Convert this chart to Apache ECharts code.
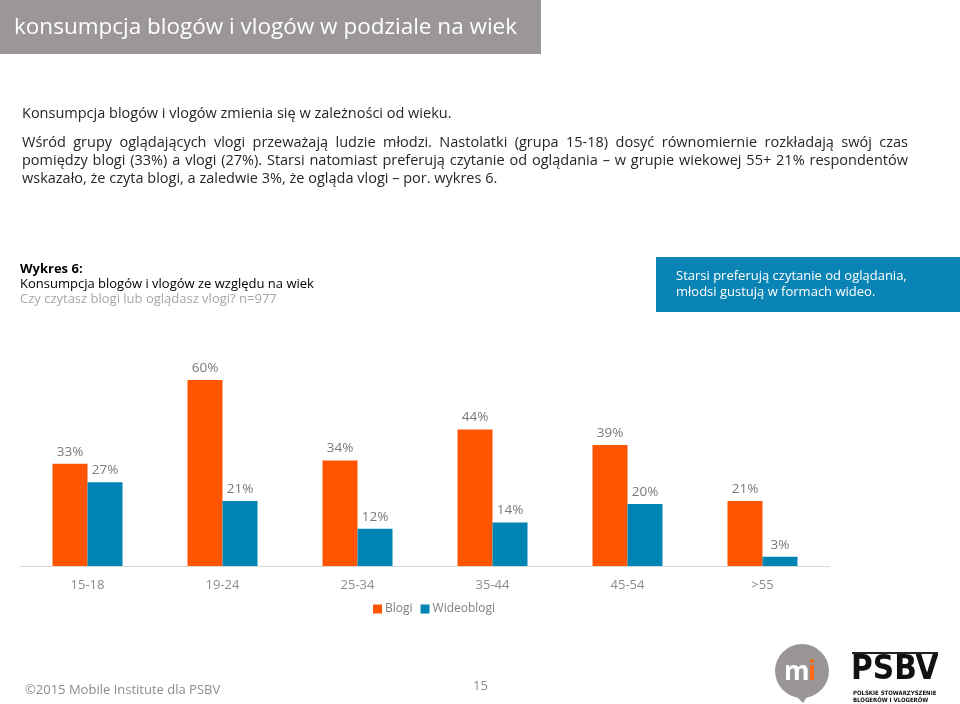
<!DOCTYPE html>
<html><head><meta charset="utf-8">
<script src="https://cdn.jsdelivr.net/npm/echarts@6/dist/echarts.min.js"></script>
<style>html,body{margin:0;padding:0;background:#fff}#c{width:960px;height:704px}</style>
</head><body><div id="c"></div>
<script>
const categories = ['15-18','19-24','25-34','35-44','45-54','>55'];
const blogi = [33,60,34,44,39,21];
const wideoblogi = [27,21,12,14,20,3];
const seriesNames = ['Blogi','Wideoblogi'];

const FF = '"Open Sans", "Noto Sans", sans-serif';
const chart = echarts.init(document.getElementById('c'), null, {renderer:'canvas'});

const mctx = document.createElement('canvas').getContext('2d');
function justifyLine(text, x0, x1, y, size, color, justify){
  mctx.font = size + 'px ' + FF;
  const words = text.split(/\s+/);
  const els = [];
  if(!justify){
    els.push({type:'text', x:x0, y:y, style:{text:text, font:size+'px '+FF, fill:color, textVerticalAlign:'top'}});
    return els;
  }
  const widths = words.map(w=>mctx.measureText(w).width);
  const total = widths.reduce((a,b)=>a+b,0);
  const gap = (x1-x0-total)/(words.length-1);
  let x = x0;
  words.forEach((w,i)=>{
    els.push({type:'text', x:x, y:y, style:{text:w, font:size+'px '+FF, fill:color, textVerticalAlign:'top'}});
    x += widths[i]+gap;
  });
  return els;
}

const paraColor = '#262626';
const pSize = 14.5;
let graphics = [
  {type:'rect', shape:{x:0,y:0,width:541,height:54}, style:{fill:'#9b9797'}},
  {type:'text', x:14, y:28, style:{text:'konsumpcja blogów i vlogów w podziale na wiek', font:'22.5px '+FF, fill:'#ffffff', textVerticalAlign:'middle'}},
  {type:'rect', shape:{x:656,y:257,width:304,height:55}, style:{fill:'#0a84b4'}},
  {type:'text', x:676, y:268, style:{text:'Starsi preferują czytanie od oglądania,\nmłodsi gustują w formach wideo.', font:'13px '+FF, fill:'#ffffff', lineHeight:16}},
  {type:'text', x:20, y:263, style:{text:'Wykres 6:', font:'bold 13px '+FF, fill:'#000000'}},
  {type:'text', x:20, y:278, style:{text:'Konsumpcja blogów i vlogów ze względu na wiek', font:'13px '+FF, fill:'#000000'}},
  {type:'text', x:20, y:293, style:{text:'Czy czytasz blogi lub oglądasz vlogi? n=977', font:'13px '+FF, fill:'#a6a6a6'}},
  {type:'text', x:25, y:684, style:{text:'©2015 Mobile Institute dla PSBV', font:'13px '+FF, fill:'#8c8c8c'}},
  {type:'text', x:473, y:680, style:{text:'15', font:'13px '+FF, fill:'#8c8c8c'}},
  // mi logo
  {type:'circle', shape:{cx:802,cy:671,r:27}, style:{fill:'#9a9696'}},
  {type:'polygon', shape:{points:[[795,695],[808,695],[803,703]]}, style:{fill:'#9a9696'}},
  {type:'text', x:784, y:673, style:{text:'m', font:'bold 26px '+FF, fill:'#ffffff', textVerticalAlign:'middle'}},
  {type:'text', x:808, y:673, style:{text:'i', font:'bold 26px '+FF, fill:'#ff6a13', textVerticalAlign:'middle'}},
  // PSBV logo
  {type:'rect', shape:{x:852,y:652,width:86,height:2}, style:{fill:'#222'}},
  {type:'text', x:851, y:654, style:{text:'PSBV', font:'bold 33px "DejaVu Sans Condensed", "Liberation Sans Narrow", sans-serif', fill:'#111'}},
  {type:'text', x:853, y:690, style:{text:'POLSKIE STOWARZYSZENIE\nBLOGERÓW I VLOGERÓW', font:'bold 6px "DejaVu Sans Condensed", sans-serif', fill:'#111', lineHeight:7}}
];
graphics = graphics.concat(justifyLine('Konsumpcja blogów i vlogów zmienia się w zależności od wieku.', 22, 908, 106, pSize, paraColor, false));
graphics = graphics.concat(justifyLine('Wśród grupy oglądających vlogi przeważają ludzie młodzi.  Nastolatki (grupa 15-18) dosyć równomiernie rozkładają swój czas', 22, 908, 135, pSize, paraColor, true));
graphics = graphics.concat(justifyLine('pomiędzy blogi (33%) a vlogi (27%). Starsi natomiast preferują czytanie od oglądania – w grupie wiekowej 55+ 21% respondentów', 22, 908, 153, pSize, paraColor, true));
graphics = graphics.concat(justifyLine('wskazało, że czyta blogi, a zaledwie 3%, że ogląda vlogi – por. wykres 6.', 22, 908, 171, pSize, paraColor, false));

const labelCfg = {show:true, position:'top', distance:5, formatter:'{c}%', color:'#7a7a7a', fontSize:13.5, fontFamily:FF};

chart.setOption({
  animation:false,
  textStyle:{fontFamily:FF},
  grid:{left:20, right:130, top:380, bottom:138, containLabel:false},
  legend:{data:seriesNames, left:368, top:598, icon:'rect', itemWidth:9, itemHeight:9, itemGap:8,
    textStyle:{color:'#7f7f7f', fontSize:12, fontFamily:FF, padding:[0,0,0,-2]}},
  xAxis:{type:'category', data:categories, axisTick:{show:false},
    axisLine:{lineStyle:{color:'#d9d9d9', width:1}},
    axisLabel:{color:'#8c8c8c', fontSize:13, margin:13, fontFamily:FF}},
  yAxis:{type:'value', min:0, max:60, show:false, splitLine:{show:false}},
  series:[
    {name:seriesNames[0], type:'bar', data:blogi, barWidth:35, barGap:'0%', itemStyle:{color:'#ff5500'}, label:labelCfg},
    {name:seriesNames[1], type:'bar', data:wideoblogi, barWidth:35, barGap:'0%', itemStyle:{color:'#0084b3'}, label:labelCfg}
  ],
  graphic:graphics
});
</script></body></html>
